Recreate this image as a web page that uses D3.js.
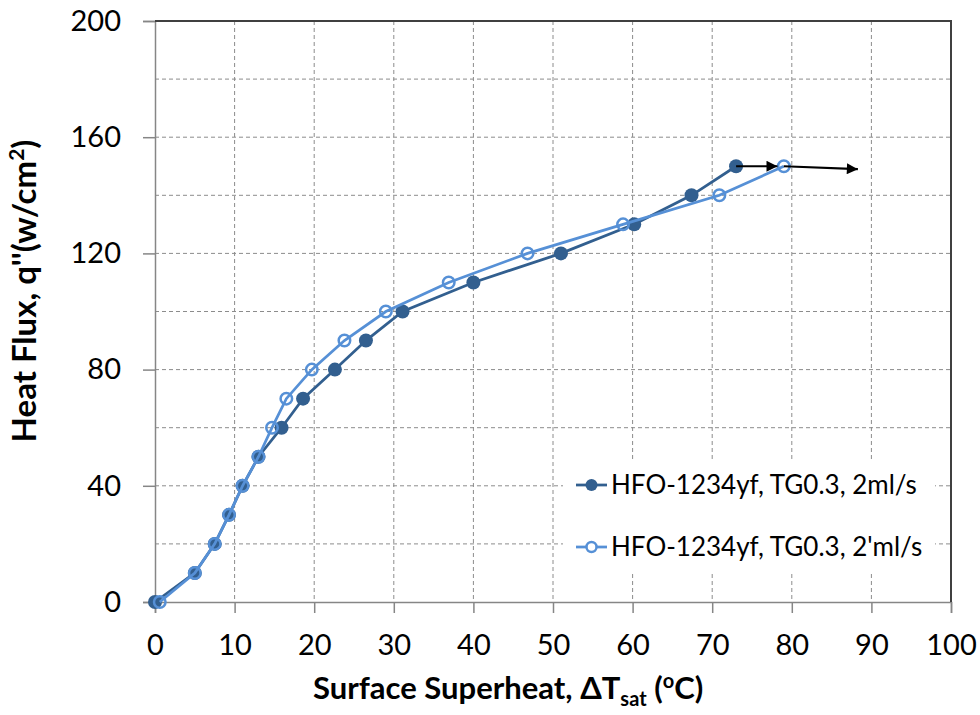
<!DOCTYPE html>
<html>
<head>
<meta charset="utf-8">
<script src="https://cdn.jsdelivr.net/npm/d3@7"></script>
<style>
  body { margin: 0; background: #fff; }
  svg { font-family: Lato, "Open Sans", sans-serif; }
</style>
</head>
<body>
<div class="chart"></div>
<script>
// values
const Q_LEVELS = [0, 10, 20, 30, 40, 50, 60, 70, 80, 90, 100, 110, 120, 130, 140, 150];
const DT_SERIES_1 = [0, 5, 7.5, 9.3, 11, 13, 15.9, 18.6, 22.6, 26.5, 31.1, 40, 51, 60.2, 67.4, 73];
const DT_SERIES_2 = [0.6, 5, 7.5, 9.3, 11, 13, 14.7, 16.5, 19.7, 23.8, 29, 36.9, 46.8, 58.8, 70.9, 79];
const SERIES_NAMES = ["HFO-1234yf, TG0.3, 2ml/s", "HFO-1234yf, TG0.3, 2'ml/s"];
const X_TICKS = [0, 10, 20, 30, 40, 50, 60, 70, 80, 90, 100];
const Y_TICKS = [0, 40, 80, 120, 160, 200];
const Y_GRID = [20, 40, 60, 80, 100, 120, 140, 160, 180];
// arrows: [x0, y0, x1, y1]
const ARROWS = [[73, 150, 78.2, 150], [79, 150, 88.3, 149]];

const DARK = "#325f8f";
const LIGHT = "#5690d6";
const WIDTH = 980, HEIGHT = 715;
const M = { left: 155, right: 951, top: 21, bottom: 602 };

const svg = d3.select(".chart").append("svg")
  .attr("width", WIDTH).attr("height", HEIGHT);

const xScale = d3.scaleLinear().domain([0, 100]).range([M.left, M.right]);
const yScale = d3.scaleLinear().domain([0, 200]).range([M.bottom, M.top]);

// grid
svg.append("g").selectAll("line")
  .data(X_TICKS.slice(1, -1))
  .join("line")
  .attr("x1", d => xScale(d)).attr("x2", d => xScale(d))
  .attr("y1", M.top).attr("y2", M.bottom)
  .attr("stroke", "#8c8c8c").attr("stroke-dasharray", "4,3");

svg.append("g").selectAll("line")
  .data(Y_GRID)
  .join("line")
  .attr("x1", M.left).attr("x2", M.right)
  .attr("y1", d => yScale(d)).attr("y2", d => yScale(d))
  .attr("stroke", "#8c8c8c").attr("stroke-dasharray", "4,3");

// axes
const xAxis = svg.append("g")
  .attr("transform", `translate(0, ${M.bottom})`)
  .call(d3.axisBottom(xScale).tickValues(X_TICKS).tickSize(11).tickPadding(21));
const yAxis = svg.append("g")
  .attr("transform", `translate(${M.left}, 0)`)
  .call(d3.axisLeft(yScale).tickValues(Y_TICKS).tickSize(12).tickPadding(22));

[xAxis, yAxis].forEach(a => {
  a.select(".domain").attr("stroke", "#868686").attr("stroke-width", 1.5);
  a.selectAll(".tick line").attr("stroke", "#868686").attr("stroke-width", 1.5);
  a.selectAll(".tick text").attr("font-size", 29).attr("fill", "#000")
    .attr("font-family", "Lato, sans-serif");
});

// top and right border
svg.append("path")
  .attr("d", `M${M.left},${M.top}H${M.right}V${M.bottom}`)
  .attr("fill", "none").attr("stroke", "#404040").attr("stroke-width", 2);

// series
const line = d3.line().x(d => xScale(d[0])).y(d => yScale(d[1]));
const s1 = DT_SERIES_1.map((x, i) => [x, Q_LEVELS[i]]);
const s2 = DT_SERIES_2.map((x, i) => [x, Q_LEVELS[i]]);

svg.append("path").datum(s1).attr("d", line)
  .attr("fill", "none").attr("stroke", DARK).attr("stroke-width", 2.75);
svg.append("g").selectAll("circle").data(s1).join("circle")
  .attr("cx", d => xScale(d[0])).attr("cy", d => yScale(d[1]))
  .attr("r", 7).attr("fill", DARK);

svg.append("path").datum(s2).attr("d", line)
  .attr("fill", "none").attr("stroke", LIGHT).attr("stroke-width", 2.75);
svg.append("g").selectAll("circle").data(s2).join("circle")
  .attr("cx", d => xScale(d[0])).attr("cy", d => yScale(d[1]))
  .attr("r", 5.75).attr("fill", "none").attr("stroke", LIGHT).attr("stroke-width", 2.5);

// arrows
svg.append("defs").append("marker")
  .attr("id", "arrow").attr("viewBox", "0 0 10 10")
  .attr("refX", 10).attr("refY", 5)
  .attr("markerWidth", 7).attr("markerHeight", 5)
  .attr("markerUnits", "strokeWidth")
  .attr("orient", "auto")
  .append("path").attr("d", "M0,0L10,5L0,10z").attr("fill", "#000");

svg.append("g").selectAll("line").data(ARROWS).join("line")
  .attr("x1", d => xScale(d[0])).attr("y1", d => yScale(d[1]))
  .attr("x2", d => xScale(d[2])).attr("y2", d => yScale(d[3]))
  .attr("stroke", "#000").attr("stroke-width", 2.2)
  .attr("marker-end", "url(#arrow)");

// legend
const legend = svg.append("g");
legend.append("rect")
  .attr("x", 563).attr("y", 460).attr("width", 372).attr("height", 114)
  .attr("fill", "#fff");
const rows = legend.selectAll("g.row").data(SERIES_NAMES).join("g")
  .attr("class", "row")
  .attr("transform", (d, i) => `translate(576, ${485 + i * 62})`);
rows.append("line").attr("x1", 0).attr("x2", 31)
  .attr("stroke", (d, i) => i ? LIGHT : DARK).attr("stroke-width", 2.75);
rows.append("circle").attr("cx", 15.5).attr("r", (d, i) => i ? 5 : 6)
  .attr("fill", (d, i) => i ? "#fff" : DARK)
  .attr("stroke", (d, i) => i ? LIGHT : "none").attr("stroke-width", 2.5);
rows.append("text").attr("x", 35).attr("dy", "0.36em")
  .attr("font-size", 26).attr("fill", "#000").text(d => d);

// axis titles
const xt = svg.append("text")
  .attr("x", 313).attr("y", 699)
  .attr("font-size", 31).attr("font-weight", "bold");
xt.append("tspan").text("Surface Superheat, ΔT");
xt.append("tspan").attr("font-size", 20).attr("dy", 7).text("sat");
xt.append("tspan").attr("dy", -7).text(" (");
xt.append("tspan").attr("font-size", 20).attr("dy", -11).text("o");
xt.append("tspan").attr("dy", 11).text("C)");

const yt = svg.append("text")
  .attr("transform", "translate(36, 291) rotate(-90)")
  .attr("text-anchor", "middle").attr("font-size", 33).attr("font-weight", "bold");
yt.append("tspan").text("Heat Flux, q''(w/cm");
yt.append("tspan").attr("font-size", 21).attr("dy", -12).text("2");
yt.append("tspan").attr("dy", 12).text(")");
</script>
</body>
</html>
